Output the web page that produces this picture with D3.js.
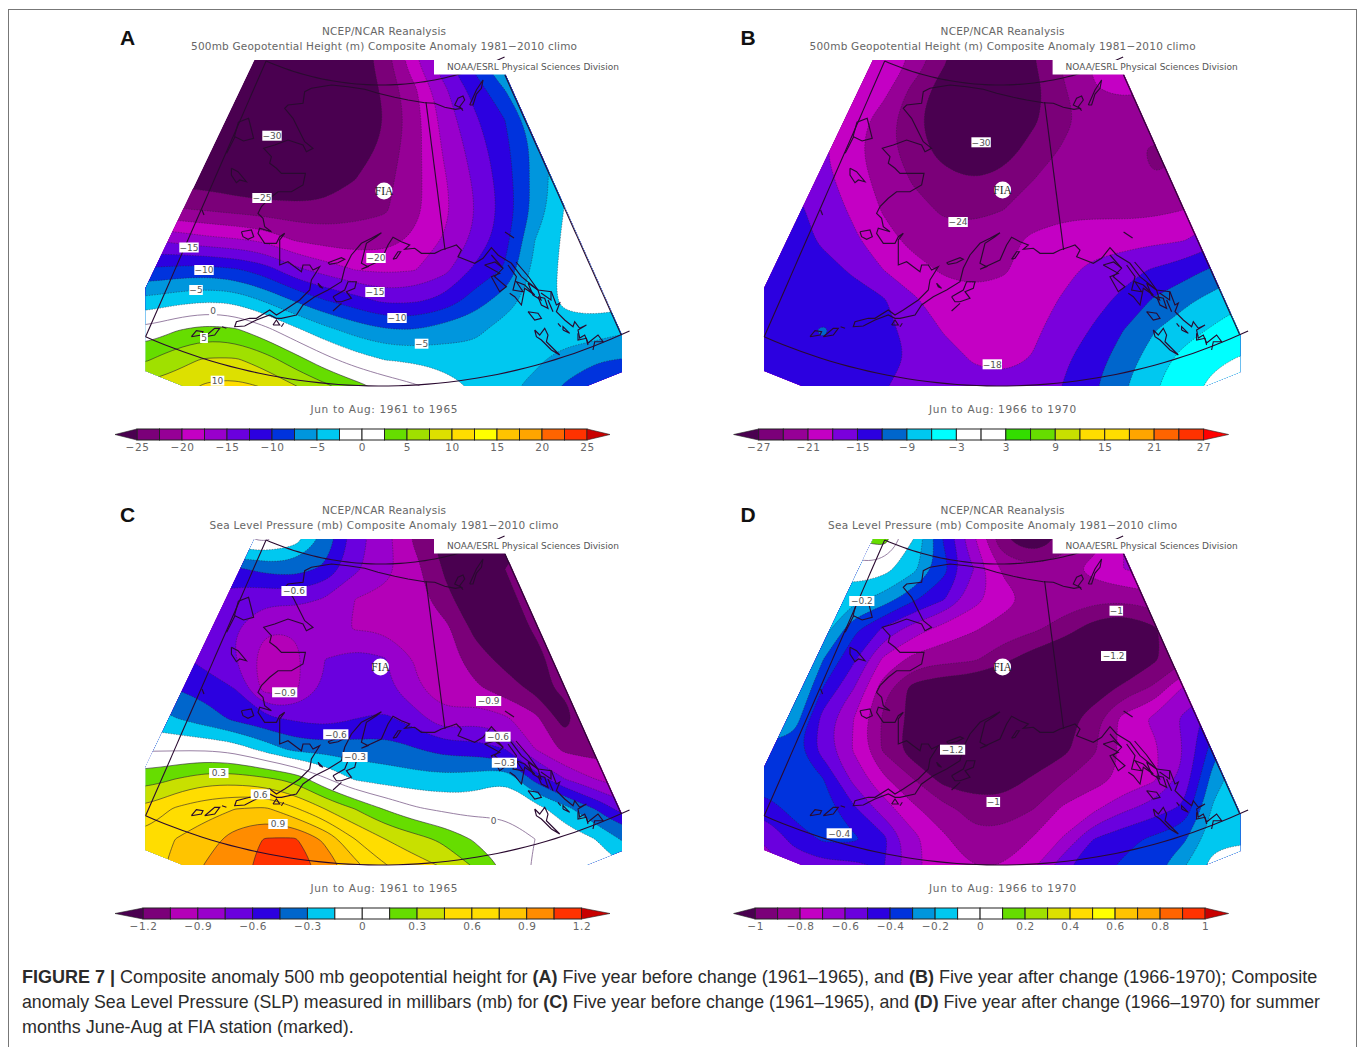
<!DOCTYPE html>
<html>
<head>
<meta charset="utf-8">
<style>
	body { margin: 0; background: #fff; }
	svg { display: block; }
</style>
</head>
<body>
<div id="vis-composite"></div>

<script src="https://d3js.org/d3.v7.min.js"></script>
<script>

	// Data //
	// ---- //

	// Contour levels, one list for each panel
	const levelsA = [-25,-22.5,-20,-17.5,-15,-12.5,-10,-7.5,-5,-2.5,0,2.5,5,7.5,10,12.5,15,17.5,20,22.5,25];
	const levelsB = [-27,-24,-21,-18,-15,-12,-9,-6,-3,0,3,6,9,12,15,18,21,24,27];
	const levelsC = [-1.2,-1.05,-0.9,-0.75,-0.6,-0.45,-0.3,-0.15,0,0.15,0.3,0.45,0.6,0.75,0.9,1.05,1.2];
	const levelsD = [-1,-0.9,-0.8,-0.7,-0.6,-0.5,-0.4,-0.3,-0.2,-0.1,0,0.1,0.2,0.3,0.4,0.5,0.6,0.7,0.8,0.9,1];

	// Colour key tick labels
	const ticksA = [-25,-20,-15,-10,-5,0,5,10,15,20,25];
	const ticksB = [-27,-21,-15,-9,-3,3,9,15,21,27];
	const ticksC = [-1.2,-0.9,-0.6,-0.3,0,0.3,0.6,0.9,1.2];
	const ticksD = [-1,-0.8,-0.6,-0.4,-0.2,0,0.2,0.4,0.6,0.8,1];

	// Band colours, under + cells + over
	const coloursA = ["#4a0050","#7b0079","#960096","#c400c4","#9900cc","#6a00de","#2c00e0","#0033dd","#0096dd","#00c8f0","#ffffff","#ffffff","#66dd00","#a0e000","#dde000","#ffdd00","#ffff00","#ffc400","#ffa500","#ff6400","#ff3200","#c80000"];
	const coloursB = ["#4a0050","#7b0079","#960096","#c400c4","#7a00dc","#2c00e0","#0066cc","#00c8f0","#00ffff","#ffffff","#ffffff","#33dd00","#66dd00","#c8e000","#ffdd00","#ffdd00","#ffa500","#ff6400","#ff3200","#ff0000"];
	const coloursC = ["#4a0050","#7b0079","#b400b8","#9900cc","#6a00de","#2c00e0","#0066cc","#00c8f0","#ffffff","#ffffff","#66dd00","#c8e000","#ffdd00","#ffdd00","#ffc400","#ff8c00","#ff3200","#c80000"];
	const coloursD = coloursA;

	// Anomaly, 17 columns by 12 rows
	const anomalyA = [
		[-27,-28,-29,-30,-30,-30,-29,-27,-23.5,-17.7,-12.9,-8.7,-3,0,2,3,3],
		[-28,-29,-30,-31,-31,-31,-30,-27,-24.5,-20.4,-15.4,-11.5,-7.5,-3,0,2,2],
		[-28,-29,-30,-31,-31,-31,-30,-27.5,-24.9,-21,-16.4,-12.9,-10,-5.7,-1,1,1],
		[-28,-29,-30,-30.5,-31,-30.5,-29.5,-26.8,-24.2,-20.8,-17.1,-13.9,-10.7,-6.8,-3,0,0],
		[-26,-26,-26.2,-27,-27.5,-27.5,-27,-25,-23.3,-20.7,-17.7,-14.6,-11.2,-6.6,-3,-1,-1],
		[-21.8,-22.2,-22.6,-23.2,-23.7,-24,-24,-23.3,-22.8,-20.6,-18,-15,-11.5,-6.7,-2.3,-1,-1],
		[-15,-15.7,-16.7,-17.2,-18,-20.2,-21,-21.3,-21,-19.5,-17.2,-14.5,-10.8,-5,-2,-0.5,-0.5],
		[-9.6,-9.1,-8.9,-9.6,-11.2,-14.3,-16,-17.5,-18,-17.6,-15.7,-11.9,-9.7,-4.2,-1.9,-0.5,-0.5],
		[-4.4,-3.5,-2.9,-3.2,-5.4,-7.8,-10,-11.5,-13.2,-13,-11.7,-8.8,-6.3,-3.7,-2,-1.3,-1.5],
		[0.7,2.3,3.5,2.9,0.8,-1.9,-4.2,-6,-7.3,-7.5,-6.3,-5.6,-3.9,-3.4,-3.3,-3.7,-4.7],
		[4.7,6.6,7.8,7.9,6.2,3.6,0.9,-1.2,-2.5,-2.9,-3.5,-3.9,-3.6,-4.4,-6.3,-7.2,-7.7],
		[8.5,9,10.8,11.2,10.2,8.2,6.2,4.1,2.2,0.8,-0.8,-2.6,-4.5,-6,-8,-10,-10.5]
	];
	const anomalyB = [
		[-15,-15.5,-16,-17.5,-19.5,-21.3,-26.5,-30,-29.5,-27.1,-23.5,-20.5,-20,-20,-21,-21,-21],
		[-15.5,-16,-17,-18.5,-20,-25,-28.5,-31,-31,-28.2,-24.3,-21.2,-20.3,-21,-21.5,-22,-22],
		[-16,-16,-17,-19.5,-22.5,-26.3,-29,-31.5,-31,-27.5,-24.6,-23,-23,-23,-23,-23,-23],
		[-15.5,-15.8,-17.8,-20.2,-22.9,-25.5,-28.3,-30.5,-28.5,-25.7,-23.7,-23,-23.4,-24.3,-24,-23,-23],
		[-15,-15.3,-17,-19.8,-22,-24.3,-26,-27,-26,-24,-22.9,-22.7,-23,-24,-23.5,-23,-23],
		[-13,-14,-16.5,-18.5,-21.3,-23,-24.4,-24.6,-24,-22.8,-21.8,-21.6,-21.8,-21.7,-21,-19.5,-18],
		[-12,-13.8,-15.5,-17.5,-19.8,-22,-23,-23,-22,-20.3,-19.7,-19.5,-19.2,-18.7,-18.2,-16,-14],
		[-13,-13,-14,-15.4,-18,-19.8,-21.4,-22,-21.3,-19.8,-18.8,-17.2,-16,-14.7,-13.3,-11.5,-9.5],
		[-13,-13,-13.2,-13.8,-14.7,-17.6,-19.5,-20,-20,-19.2,-17.7,-16,-14.3,-11.7,-9.8,-7.9,-6.3],
		[-12.5,-12.5,-11.8,-13,-14.2,-16,-18.2,-19.3,-19.5,-18.5,-16.7,-14.7,-12,-9.2,-7.2,-5.6,-4.5],
		[-12.5,-12.5,-12.5,-13,-14,-15.3,-16.8,-18.2,-18.7,-17.8,-15.5,-13.2,-10.5,-7.4,-5,-3.6,-2.6],
		[-13,-13,-13,-13.5,-15,-15.8,-16.4,-16.8,-17,-16.4,-14.8,-12.3,-9.2,-6.2,-4.1,-2,-1]
	];
	const anomalyC = [
		[-0.1,-0.1,-0.1,-0.02,0.03,-0.08,-0.33,-0.68,-0.85,-1.08,-1.28,-1.33,-1.3,-1.15,-1.15,-1.15,-1.15],
		[-0.3,-0.35,-0.42,-0.48,-0.4,-0.38,-0.48,-0.72,-0.85,-1,-1.22,-1.3,-1.2,-1.1,-1.1,-1.1,-1.1],
		[-0.6,-0.62,-0.65,-0.68,-0.72,-0.7,-0.76,-0.9,-0.94,-0.97,-1.16,-1.3,-1.25,-1.13,-1.1,-1.1,-1.1],
		[-0.65,-0.65,-0.7,-0.75,-0.89,-0.89,-0.85,-0.91,-0.92,-0.9,-1,-1.24,-1.3,-1.18,-1.1,-1.1,-1.1],
		[-0.55,-0.55,-0.66,-0.75,-0.98,-0.94,-0.75,-0.68,-0.74,-0.91,-0.97,-1.13,-1.25,-1.26,-1.1,-1.05,-1.05],
		[-0.38,-0.45,-0.5,-0.6,-0.97,-0.93,-0.72,-0.67,-0.7,-0.88,-0.96,-1.02,-1.12,-1.24,-1.17,-1.05,-1],
		[-0.22,-0.29,-0.38,-0.48,-0.56,-0.62,-0.67,-0.6,-0.57,-0.67,-0.87,-0.8,-0.87,-1,-1.27,-1,-0.95],
		[-0.02,-0.02,-0.02,-0.06,-0.21,-0.35,-0.36,-0.38,-0.38,-0.44,-0.51,-0.52,-0.6,-0.9,-1.1,-1.12,-1.1],
		[0.23,0.3,0.38,0.38,0.33,0.25,0.02,-0.17,-0.22,-0.24,-0.25,-0.23,-0.16,-0.5,-0.75,-0.9,-1],
		[0.48,0.62,0.7,0.75,0.78,0.62,0.45,0.3,0.14,0.02,-0.03,-0.05,-0.03,-0.08,-0.24,-0.45,-0.68],
		[0.65,0.75,0.82,0.97,1.06,1.07,0.87,0.6,0.45,0.36,0.26,0.13,0.07,0,-0.07,-0.15,-0.33],
		[0.7,0.78,0.92,0.98,1.12,1.15,1,0.82,0.63,0.53,0.45,0.3,0.14,-0.03,-0.06,-0.08,-0.15]
	];
	const anomalyD = [
		[0,0,0,0.1,0.16,-0.1,-0.41,-0.7,-1,-1.12,-0.97,-0.86,-0.7,-0.6,-0.6,-0.6,-0.6],
		[-0.05,-0.05,-0.05,-0.03,-0.06,-0.17,-0.36,-0.6,-0.82,-0.87,-0.84,-0.76,-0.7,-0.65,-0.65,-0.65,-0.65],
		[-0.2,-0.2,-0.2,-0.17,-0.24,-0.38,-0.49,-0.66,-0.76,-0.83,-0.84,-0.87,-0.87,-0.85,-0.8,-0.8,-0.8],
		[-0.2,-0.2,-0.15,-0.37,-0.52,-0.65,-0.74,-0.79,-0.84,-0.88,-0.95,-1.05,-1.12,-1.02,-0.9,-0.85,-0.8],
		[-0.05,-0.1,-0.3,-0.48,-0.72,-0.83,-0.86,-0.88,-0.97,-1.06,-1.12,-1.16,-1.18,-1.02,-0.92,-0.85,-0.8],
		[-0.05,-0.15,-0.41,-0.6,-0.86,-1.05,-1.1,-1.12,-1.16,-1.16,-1.17,-1.08,-0.96,-0.88,-0.68,-0.6,-0.55],
		[-0.15,-0.23,-0.55,-0.7,-0.92,-1.03,-1.08,-1.1,-1.12,-1.12,-1.06,-0.93,-0.76,-0.68,-0.58,-0.43,-0.35],
		[-0.34,-0.37,-0.55,-0.71,-0.92,-1.07,-1.17,-1.15,-1.13,-1.12,-1.03,-0.92,-0.77,-0.72,-0.6,-0.35,-0.15],
		[-0.33,-0.35,-0.4,-0.63,-0.78,-0.9,-1.04,-1.08,-1.07,-0.98,-0.91,-0.84,-0.78,-0.72,-0.57,-0.25,-0.12],
		[-0.47,-0.36,-0.35,-0.48,-0.65,-0.78,-0.87,-0.93,-0.94,-0.9,-0.78,-0.72,-0.62,-0.55,-0.48,-0.18,-0.1],
		[-0.6,-0.47,-0.38,-0.38,-0.47,-0.67,-0.78,-0.88,-0.87,-0.79,-0.69,-0.5,-0.43,-0.38,-0.32,-0.13,-0.12],
		[-0.65,-0.57,-0.55,-0.55,-0.5,-0.68,-0.75,-0.8,-0.79,-0.7,-0.51,-0.43,-0.38,-0.33,-0.2,-0.05,0]
	];

	// Contour labels: text, east, south (map units)
	const labelsA = [["−30",272,135.7],["−25",262,198],["−15",189,247.5],["−10",204,270],["−5",196,290],["0",213,311],["5",204,338],["10",217.5,380.7],["−20",376,258],["−15",375,292],["−10",397,318],["−5",421.6,343.7]];
	const labelsB = [["−30",362.5,142.3],["−24",339.5,222],["−18",373.7,364.3]];
	const labelsC = [["−0.6",294,112],["−0.9",284.7,213.3],["−0.6",335.8,255.3],["−0.3",355,278],["−0.9",488.6,222],["−0.6",498,257.7],["−0.3",504.4,283.7],["0.3",218.8,294],["0.6",260.4,315.3],["0.9",278,345],["0",493.6,341.7]];
	const labelsD = [["−0.2",243.2,122],["−1",497.7,131.7],["−1.2",495,177],["−1.2",334,270.7],["−1",374.7,323],["−0.4",220.6,354.3]];

	// Coastline, digitised in map units
	const coastMain = [[424.7,102.7],[408,100],[394.7,97.3],[378,93.3],[364.7,89.3],[348,86.7],[331.4,85],[311.4,88.3],[304.7,91.7],[303,103.3],[288,105],[284.7,108.3],[293,118.3],[299.7,131.7],[304.7,141.7],[313,148.3],[306.4,151.7],[303,145],[288,140],[274.7,145],[263.7,148.3],[271.4,156.7],[269.7,163.3],[276.4,168.3],[281.4,173.3],[298,173.3],[305.4,173.3],[303,185],[291.4,191.7],[278,191.7],[269.7,198.3],[261.4,206.7],[258,213.3],[263,218.3],[264.7,226.7],[271.4,231.7],[259.7,228.3],[258,233.3],[264.7,243.3],[276.4,243.3],[279.7,236.7],[284.7,233.3],[279.7,240],[279.7,265],[288,261.7],[294.7,266.7],[301.4,271.7],[303,265],[309.7,265],[313,270],[319.7,266.7],[311.4,280],[309.7,290],[299.7,300],[284.7,310],[276.4,315],[269.7,310],[256.4,318.3],[249.7,318.3],[236.4,321.7],[234.7,326.7],[244.7,326],[256.4,320],[269.7,315],[276.4,318.3],[281.4,318.3],[296.4,315],[303,305],[314.7,296.7],[328,290],[341.4,281.7],[344.7,268.3],[351.4,255],[361.4,243.3],[371.4,238.3],[381.4,232.7],[376.4,236.7],[366.4,243.3],[361.4,263.3],[368,266.7],[361.4,269.3],[381.4,260],[388,245],[393,237.3],[401.4,241.7],[409.7,245],[404.7,249.3],[414.7,248.3],[421.4,253.3],[434.7,253.3],[441.4,250],[451.4,246.7],[456.4,245],[461.4,250],[458,256.7],[474.7,263.3],[483,258.3],[491.4,247.7],[498,255],[511.4,263.3],[521.4,276.7],[538,290],[551.4,291.7],[556.4,305],[559.7,303],[556.4,311.7],[564.7,320],[573,326.7],[574.7,321.7],[579.7,328.3],[586.4,325],[578,330],[579.7,338],[584.7,335],[588,343],[598,335],[603,341.7],[594.7,341.7],[593,350]];
	const coastBorder = [[426,102],[445,250]];
	const coastArctic = [[424.7,102.7],[434.7,103.3],[444.7,107.3],[455.4,109.3],[461.4,108.3],[454.7,105],[458,98.3],[463,96],[464.7,100],[459.7,106.7],[463,110.7]];
	const coastIslands = [
		[[469.7,105],[476.4,90],[483,80],[481.4,88.3],[476.4,94],[473,105],[469.7,105]],
		[[491.4,255],[503,268.3],[494.7,276.7],[506.4,286.7],[499.7,291.7],[491.4,276.7],[499.7,273.3],[484.7,265]],
		[[508,265],[516.4,276.7],[513,290],[523,291.7],[516.4,281.7],[524.7,285],[534.7,295],[524.7,288.3],[521.4,305],[514.7,296.7],[509.7,293.3]],
		[[484.7,265],[495,262],[503,268]],
		[[528,283],[538,290],[541,300],[533,295],[528,283]],
		[[516,262],[528,276],[538,290]],
		[[541,293],[551,300],[551,292]],
		[[538,296.7],[541.4,305],[548,308.3],[544.7,298.3],[538,296.7]],
		[[548,300],[553,311.7]],
		[[528,311.7],[538,313.3],[541.4,318.3],[534.7,320],[528,311.7]],
		[[534.7,330],[539.7,335],[544.7,328.3],[548,335],[546.4,341.7],[559.7,355],[551.4,350],[541.4,340],[536.4,336.7],[534.7,330]],
		[[558,323.3],[560.7,326.7]],
		[[563,330],[569.7,333.3],[563,326.7],[563,330]],
		[[578,333.3],[578,340],[586.4,338.3],[588,345]],
		[[241.4,231.7],[251.4,230],[253.7,236.7],[248,239.3],[243,236.7],[241.4,231.7]],
		[[328,262.7],[341.4,257.7],[344.7,259.3],[338,262.7],[329.7,264.3],[328,262.7]],
		[[333,296.7],[344.7,290],[348,281.7],[356.4,281.7],[354.7,288.3],[346.4,291.7],[351.4,298.3],[341.4,301.7],[336.4,301.7],[333,296.7]],
		[[333,311],[341.4,303.3]],
		[[318,283.3],[323,288.3],[319.7,286.7],[318,283.3]],
		[[191.4,336.7],[196.4,330.7],[203,331.7],[201.4,335],[191.4,336.7]],
		[[204.7,336.7],[214.7,328.3],[219.7,328.3],[214.7,335],[204.7,336.7]],
		[[222,326.7],[226.4,328.3]],
		[[273,325],[276.4,320],[279.7,325],[273,325]],
		[[281.4,326.7],[283.7,323.3]],
		[[393,259.3],[398,251.7],[400.7,251.7],[396.4,258.3],[393,259.3]],
		[[231.4,168.3],[238,171.7],[246.4,181.7],[239.7,180],[236.4,182.7],[231.4,175],[231.4,168.3]],
		[[226.6,153.3],[235,136.7],[243.5,141],[253.6,138.3],[248.6,118.3],[238.4,122.3],[234.4,136.7]],
		[[202,210],[204,215]],
		[[505,232],[514,238]]
	];

	// Panels
	const panels = [
		{letter: "A", dx: 0, dy: 0, grid: anomalyA, levels: levelsA, colours: coloursA, ticks: ticksA, labels: labelsA,
			title: "500mb Geopotential Height (m) Composite Anomaly 1981−2010 climo", titleWidth: 386, period: "Jun to Aug: 1961 to 1965", bar: [137, 587], fia: [384, 191], letterX: 120},
		{letter: "B", dx: 618.6, dy: 0, grid: anomalyB, levels: levelsB, colours: coloursB, ticks: ticksB, labels: labelsB,
			title: "500mb Geopotential Height (m) Composite Anomaly 1981−2010 climo", titleWidth: 386, period: "Jun to Aug: 1966 to 1970", bar: [140, 585], fia: [384, 190], letterX: 122},
		{letter: "C", dx: 0, dy: 479, grid: anomalyC, levels: levelsC, colours: coloursC, ticks: ticksC, labels: labelsC,
			title: "Sea Level Pressure (mb) Composite Anomaly 1981−2010 climo", titleWidth: 349, period: "Jun to Aug: 1961 to 1965", bar: [143, 581.5], fia: [380.5, 188], letterX: 120},
		{letter: "D", dx: 618.6, dy: 479, grid: anomalyD, levels: levelsD, colours: coloursD, ticks: ticksD, labels: labelsD,
			title: "Sea Level Pressure (mb) Composite Anomaly 1981−2010 climo", titleWidth: 349, period: "Jun to Aug: 1966 to 1970", bar: [136.5, 586.5], fia: [384, 188], letterX: 122}
	];

	const captionLines = [
		{width: 1296, parts: [["FIGURE 7 | ",1],["Composite anomaly 500 mb geopotential height for ",0],["(A)",1],[" Five year before change (1961–1965), and ",0],["(B)",1],[" Five year after change (1966-1970); Composite",0]]},
		{width: 1299, parts: [["anomaly Sea Level Pressure (SLP) measured in millibars (mb) for ",0],["(C)",1],[" Five year before change (1961–1965), and ",0],["(D)",1],[" Five year after change (1966–1970) for summer",0]]},
		{width: 332, parts: [["months June-Aug at FIA station (marked).",0]]}
	];


	// ----- //
	// Setup //
	// ----- //

	const svg = d3.select("#vis-composite")
		.append("svg")
			.attr("width", 1358)
			.attr("height", 1047);

	const titleFont = "'DejaVu Sans', sans-serif";
	const lineColour = "#2a0a30";

	// Outer figure border
	svg.append("rect")
		.attr("x", 8.5).attr("y", 9.5)
		.attr("width", 1348).attr("height", 1060)
		.attr("fill", "none")
		.attr("stroke", "#777");

	// Grid position to map units
	const gridX = d3.scaleLinear().domain([0, 16]).range([145, 625]);
	const gridY = d3.scaleLinear().domain([0, 11]).range([60, 390]);

	// Fan shape the filled contours are cut to
	const fanOutline = [[254.3,60],[499,60],[622,335],[622,372],[587,386],[183,386],[145.5,371],[145.5,288]];

	// Frame as polar pieces around the apex of the fan
	const apex = [381, -202];
	const toRad = Math.PI / 180;
	const frameLines = [
		{from: -23.6, to: 25.5, r0: 287, r1: 287},
		{from: -23.6, to: 25, r0: 588, r1: 588},
		{from: -23.6, to: -23.6, r0: 287, r1: 588},
		{from: 24.1, to: 24.1, r0: 303, r1: 588}
	];
	const frameLine = d3.lineRadial()
		.angle(d => Math.PI - d[0] * toRad)
		.radius(d => d[1]);

	// Contour rings to path string
	const ringLine = d3.line().curve(d3.curveBasisClosed);

	function contourPath(flat, nx, ny, level) {
		let shape = d3.contours().size([nx, ny]).smooth(true).contour(flat, level);
		let out = "";
		for (let polygon of shape.coordinates) {
			for (let ring of polygon) {
				let pts = ring.slice(0, -1).map(p => [gridX(p[0] - 1.5), gridY(p[1] - 1.5)]);
				if (pts.length > 2) out += ringLine(pts);
			}
		}
		return out;
	}

	// Repeat the edge of the grid once so rings close outside the fan
	function padGrid(grid) {
		let rows = grid.map(r => [r[0], ...r, r[r.length - 1]]);
		rows = [rows[0], ...rows, rows[rows.length - 1]];
		return {flat: rows.flat(), nx: rows[0].length, ny: rows.length};
	}

	const fmtTick = d => String(d).replace("-", "−");

	function drawPanel(p, i) {
		let g = svg.append("g")
			.attr("transform", "translate(" + p.dx + "," + p.dy + ")");

		// Titles //
		// ------ //
		g.append("text").attr("x", 384).attr("y", 35)
			.attr("text-anchor", "middle")
			.attr("textLength", 124)
			.style("font", "10.5px " + titleFont).style("fill", "#666")
			.text("NCEP/NCAR Reanalysis");
		g.append("text").attr("x", 384).attr("y", 50)
			.attr("text-anchor", "middle")
			.attr("textLength", p.titleWidth)
			.style("font", "10.5px " + titleFont).style("fill", "#666")
			.text(p.title);
		g.append("text").attr("x", 384).attr("y", 413)
			.attr("text-anchor", "middle")
			.attr("textLength", 147)
			.style("font", "10.5px " + titleFont).style("fill", "#666")
			.text(p.period);
		g.append("text").attr("x", p.letterX).attr("y", i < 2 ? 45 : 43)
			.style("font", "bold 21px 'Liberation Sans', sans-serif").style("fill", "#111")
			.text(p.letter);

		// Filled contours //
		// --------------- //
		let clipId = "fan-" + p.letter;
		g.append("clipPath").attr("id", clipId)
			.append("polygon").attr("points", fanOutline.join(" "));

		let map = g.append("g").attr("clip-path", "url(#" + clipId + ")");
		let padded = padGrid(p.grid);

		map.append("polygon")
			.attr("points", fanOutline.join(" "))
			.attr("fill", p.colours[0]);

		map.selectAll("path.band")
			.data(p.levels)
			.enter().append("path")
				.attr("class", "band")
				.attr("d", d => contourPath(padded.flat, padded.nx, padded.ny, d))
				.attr("fill-rule", "evenodd")
				.attr("fill", (d, k) => p.colours[k + 1]);

		map.selectAll("path.line")
			.data(p.levels)
			.enter().append("path")
				.attr("class", "line")
				.attr("d", d => contourPath(padded.flat, padded.nx, padded.ny, d))
				.attr("fill", "none")
				.attr("stroke", d => d === 0 ? "#7d5f8c" : "#2a2030")
				.attr("stroke-opacity", d => d === 0 ? 1 : (d < 0 ? 0.5 : 0.75))
				.attr("stroke-width", 0.8)
				.attr("stroke-dasharray", d => d < 0 ? "1.5,1.2" : null);

		// Frame and coast //
		// --------------- //
		for (let f of frameLines) {
			let pts = d3.range(0, 1.001, 0.02).map(t => [f.from + (f.to - f.from) * t, f.r0 + (f.r1 - f.r0) * t]);
			g.append("path")
				.attr("transform", "translate(" + apex[0] + "," + apex[1] + ")")
				.attr("d", frameLine(pts))
				.attr("fill", "none")
				.attr("stroke", lineColour)
				.attr("stroke-width", 1.1);
		}

		let coast = g.append("g")
			.attr("fill", "none")
			.attr("stroke", lineColour)
			.attr("stroke-width", 1.15);
		let coastPath = d3.line();
		for (let c of [coastMain, coastBorder, coastArctic, ...coastIslands]) {
			coast.append("path").attr("d", coastPath(c));
		}

		// NOAA box
		g.append("rect").attr("x", 434).attr("y", 60).attr("width", 73).attr("height", 14.5).attr("fill", "#fff");
		g.append("text").attr("x", 447).attr("y", 70)
			.attr("textLength", 172)
			.style("font", "9px " + titleFont).style("fill", "#555")
			.text("NOAA/ESRL Physical Sciences Division");

		// Contour labels //
		// -------------- //
		let lab = g.selectAll("g.clabel")
			.data(p.labels)
			.enter().append("g")
				.attr("class", "clabel")
				.attr("transform", d => "translate(" + d[1] + "," + d[2] + ")");
		lab.append("rect")
			.attr("x", d => -d[0].length * 2.9 - 1)
			.attr("y", -5)
			.attr("width", d => d[0].length * 5.8 + 2)
			.attr("height", 10)
			.attr("fill", "#fff");
		lab.append("text")
			.attr("text-anchor", "middle")
			.attr("y", 3.2)
			.style("font", "9px " + titleFont).style("fill", "#555")
			.text(d => d[0]);

		// Station marker
		g.append("circle").attr("cx", p.fia[0]).attr("cy", p.fia[1]).attr("r", 8.5).attr("fill", "#fff");
		g.append("text").attr("x", p.fia[0]).attr("y", p.fia[1] + 4)
			.attr("text-anchor", "middle")
			.style("font", "11.5px 'Liberation Serif', serif").style("fill", "#222")
			.text("FIA");

		// Colour key //
		// ---------- //
		let first = p.levels[0], last = p.levels[p.levels.length - 1];
		let keyX = d3.scaleLinear().domain([first, last]).range(p.bar);
		let top = 429, bottom = 440;

		let key = g.append("g");
		key.selectAll("rect")
			.data(p.levels.slice(0, -1))
			.enter().append("rect")
				.attr("x", d => keyX(d))
				.attr("y", top)
				.attr("width", (d, k) => keyX(p.levels[k + 1]) - keyX(d))
				.attr("height", bottom - top)
				.attr("fill", (d, k) => p.colours[k + 1])
				.attr("stroke", "#222")
				.attr("stroke-width", 1);
		key.append("polygon")
			.attr("points", [[p.bar[0], top], [p.bar[0], bottom], [115, (top + bottom) / 2]].join(" "))
			.attr("fill", p.colours[0])
			.attr("stroke", "#222").attr("stroke-width", 0.6);
		key.append("polygon")
			.attr("points", [[p.bar[1], top], [p.bar[1], bottom], [610, (top + bottom) / 2]].join(" "))
			.attr("fill", p.colours[p.colours.length - 1])
			.attr("stroke", "#222").attr("stroke-width", 0.6);

		let axis = d3.axisBottom(keyX).tickValues(p.ticks).tickSize(0).tickFormat(fmtTick);
		let axisG = g.append("g").attr("transform", "translate(0," + (bottom + 1) + ")").call(axis);
		axisG.select(".domain").remove();
		axisG.selectAll("text")
			.style("font", "10.5px " + titleFont)
			.style("fill", "#666")
			.style("letter-spacing", "0.6px");
	}

	panels.forEach(drawPanel);

	// Caption //
	// ------- //
	captionLines.forEach(function(line, i) {
		let t = svg.append("text")
			.style("font", "18px 'Liberation Sans', sans-serif")
			.style("fill", "#2b2b2b");
		for (let part of line.parts) {
			t.append("tspan")
				.style("font-weight", part[1] ? "bold" : "normal")
				.text(part[0]);
		}
		// Squeeze the whole line to its width in the figure
		let sx = line.width / t.node().getComputedTextLength();
		t.attr("transform", "translate(22," + (983 + i * 25) + ") scale(" + sx + ",1)");
	});
</script>
</body>
</html>
